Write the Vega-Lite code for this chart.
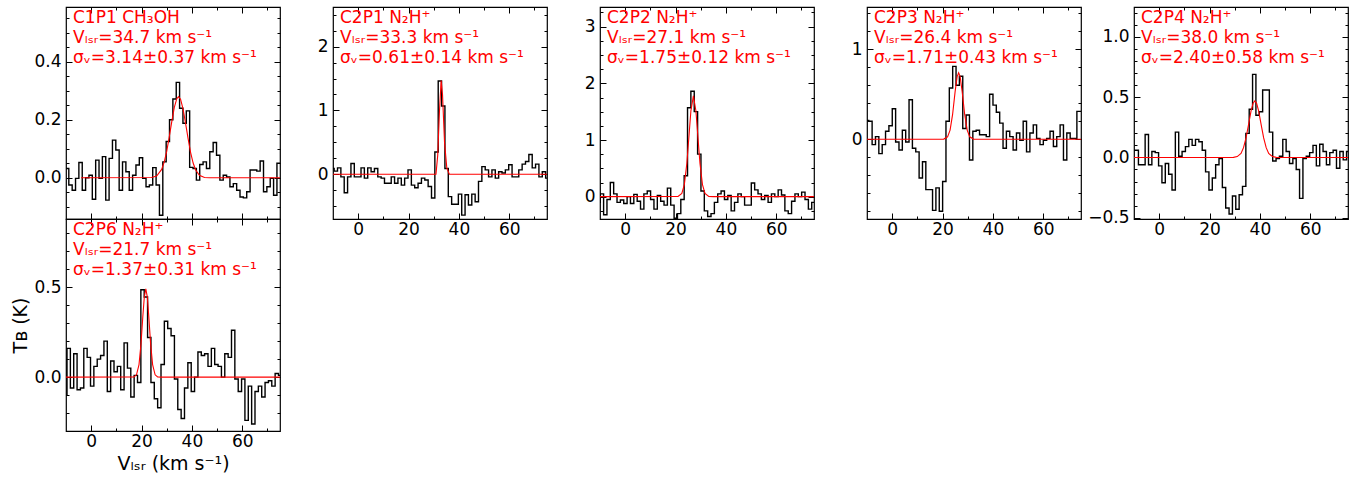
{
"$schema": "https://vega.github.io/schema/vega-lite/v6.json",
"background": "white",
"padding": {"left": 11, "top": 2, "right": 5, "bottom": 5},
"datasets": {
"s1": [{"v":-10.88,"t":0.03},{"v":-9.55,"t":0.032},{"v":-8.22,"t":-0.025},{"v":-6.88,"t":-0.043},{"v":-5.55,"t":-0.002},{"v":-4.22,"t":0.053},{"v":-2.88,"t":-0.043},{"v":-1.55,"t":0.0},{"v":-0.22,"t":0.009},{"v":1.12,"t":-0.074},{"v":2.45,"t":0.061},{"v":3.78,"t":-0.002},{"v":5.12,"t":0.073},{"v":6.45,"t":-0.077},{"v":7.78,"t":0.067},{"v":9.12,"t":0.13},{"v":10.45,"t":0.096},{"v":11.78,"t":-0.043},{"v":13.12,"t":0.055},{"v":14.45,"t":0.021},{"v":15.78,"t":-0.043},{"v":17.12,"t":0.009},{"v":18.45,"t":0.044},{"v":19.78,"t":0.069},{"v":21.12,"t":-0.002},{"v":22.45,"t":-0.031},{"v":23.78,"t":-0.025},{"v":25.12,"t":0.035},{"v":26.45,"t":-0.025},{"v":27.78,"t":-0.129},{"v":29.12,"t":0.055},{"v":30.45,"t":0.125},{"v":31.78,"t":0.2},{"v":33.12,"t":0.272},{"v":34.45,"t":0.329},{"v":35.78,"t":0.24},{"v":37.12,"t":0.188},{"v":38.45,"t":0.231},{"v":39.78,"t":0.036},{"v":41.12,"t":0.032},{"v":42.45,"t":-0.008},{"v":43.78,"t":0.046},{"v":45.12,"t":0.055},{"v":46.45,"t":0.032},{"v":47.78,"t":0.09},{"v":49.12,"t":0.122},{"v":50.45,"t":0.078},{"v":51.78,"t":-0.008},{"v":53.12,"t":0.009},{"v":54.45,"t":0.003},{"v":55.78,"t":-0.031},{"v":57.12,"t":-0.02},{"v":58.45,"t":-0.043},{"v":59.78,"t":-0.066},{"v":61.12,"t":-0.069},{"v":62.45,"t":-0.048},{"v":63.78,"t":0.027},{"v":65.12,"t":0.027},{"v":66.45,"t":0.023},{"v":67.78,"t":0.058},{"v":69.12,"t":-0.048},{"v":70.45,"t":-0.031},{"v":71.78,"t":-0.002},{"v":73.12,"t":-0.06},{"v":74.45,"t":0.05},{"v":75.78,"t":0.05}],
"s2": [{"v":-10.21,"t":0.09},{"v":-8.88,"t":0.05},{"v":-7.54,"t":0.1},{"v":-6.21,"t":-0.04},{"v":-4.88,"t":-0.29},{"v":-3.54,"t":-0.04},{"v":-2.21,"t":0.17},{"v":-0.88,"t":-0.04},{"v":0.46,"t":-0.04},{"v":1.79,"t":0.1},{"v":3.12,"t":-0.06},{"v":4.46,"t":0.1},{"v":5.79,"t":0.04},{"v":7.12,"t":0.09},{"v":8.46,"t":-0.04},{"v":9.79,"t":-0.06},{"v":11.12,"t":-0.14},{"v":12.46,"t":-0.14},{"v":13.79,"t":-0.04},{"v":15.12,"t":-0.14},{"v":16.46,"t":-0.06},{"v":17.79,"t":-0.17},{"v":19.12,"t":-0.06},{"v":20.46,"t":0.07},{"v":21.79,"t":-0.17},{"v":23.12,"t":-0.21},{"v":24.46,"t":-0.14},{"v":25.79,"t":-0.06},{"v":27.12,"t":-0.09},{"v":28.46,"t":-0.19},{"v":29.79,"t":-0.37},{"v":31.12,"t":0.35},{"v":32.46,"t":1.46},{"v":33.79,"t":1.07},{"v":35.12,"t":0.09},{"v":36.46,"t":-0.35},{"v":37.79,"t":-0.47},{"v":39.12,"t":-0.47},{"v":40.46,"t":-0.31},{"v":41.79,"t":-0.64},{"v":43.12,"t":-0.32},{"v":44.46,"t":-0.48},{"v":45.79,"t":-0.31},{"v":47.12,"t":-0.43},{"v":48.46,"t":-0.11},{"v":49.79,"t":0.12},{"v":51.12,"t":0.07},{"v":52.46,"t":-0.04},{"v":53.79,"t":0.07},{"v":55.12,"t":-0.06},{"v":56.46,"t":0.04},{"v":57.79,"t":0.02},{"v":59.12,"t":0.07},{"v":60.46,"t":0.15},{"v":61.79,"t":-0.04},{"v":63.12,"t":-0.04},{"v":64.46,"t":0.07},{"v":65.79,"t":0.16},{"v":67.12,"t":0.2},{"v":68.46,"t":0.31},{"v":69.79,"t":0.1},{"v":71.12,"t":0.16},{"v":72.46,"t":-0.04},{"v":73.79,"t":0.04},{"v":75.12,"t":-0.06}],
"s3": [{"v":-10.57,"t":-0.1},{"v":-9.24,"t":0.05},{"v":-7.9,"t":-0.32},{"v":-6.57,"t":-0.05},{"v":-5.24,"t":0.25},{"v":-3.9,"t":0.05},{"v":-2.57,"t":-0.1},{"v":-1.24,"t":-0.06},{"v":0.1,"t":-0.12},{"v":1.43,"t":0.0},{"v":2.76,"t":-0.12},{"v":4.1,"t":0.04},{"v":5.43,"t":-0.08},{"v":6.76,"t":-0.22},{"v":8.1,"t":0.05},{"v":9.43,"t":0.1},{"v":10.76,"t":-0.05},{"v":12.1,"t":-0.22},{"v":13.43,"t":0.02},{"v":14.76,"t":-0.08},{"v":16.1,"t":-0.15},{"v":17.43,"t":0.15},{"v":18.76,"t":-0.15},{"v":20.1,"t":-0.38},{"v":21.43,"t":-0.3},{"v":22.76,"t":-0.05},{"v":24.1,"t":0.37},{"v":25.43,"t":1.57},{"v":26.76,"t":1.86},{"v":28.1,"t":1.5},{"v":29.43,"t":0.75},{"v":30.76,"t":0.1},{"v":32.1,"t":-0.25},{"v":33.43,"t":-0.35},{"v":34.76,"t":-0.3},{"v":36.1,"t":-0.1},{"v":37.43,"t":0.05},{"v":38.76,"t":0.1},{"v":40.1,"t":-0.05},{"v":41.43,"t":0.02},{"v":42.76,"t":-0.25},{"v":44.1,"t":-0.1},{"v":45.43,"t":0.05},{"v":46.76,"t":0.0},{"v":48.1,"t":-0.15},{"v":49.43,"t":-0.15},{"v":50.76,"t":0.24},{"v":52.1,"t":0.12},{"v":53.43,"t":0.05},{"v":54.76,"t":-0.05},{"v":56.1,"t":0.02},{"v":57.43,"t":-0.1},{"v":58.76,"t":0.05},{"v":60.1,"t":0.0},{"v":61.43,"t":0.12},{"v":62.76,"t":0.03},{"v":64.1,"t":-0.25},{"v":65.43,"t":-0.3},{"v":66.76,"t":-0.08},{"v":68.1,"t":0.05},{"v":69.43,"t":0.0},{"v":70.76,"t":0.08},{"v":72.1,"t":-0.05},{"v":73.43,"t":-0.22},{"v":74.76,"t":-0.1},{"v":76.1,"t":-0.1}],
"s4": [{"v":-11.3,"t":0.21},{"v":-9.97,"t":0.21},{"v":-8.63,"t":0.2},{"v":-7.3,"t":-0.06},{"v":-5.97,"t":0.03},{"v":-4.63,"t":-0.16},{"v":-3.3,"t":-0.06},{"v":-1.97,"t":0.09},{"v":-0.63,"t":0.15},{"v":0.7,"t":0.34},{"v":2.03,"t":-0.03},{"v":3.37,"t":-0.12},{"v":4.7,"t":0.1},{"v":6.03,"t":-0.03},{"v":7.37,"t":0.44},{"v":8.7,"t":-0.1},{"v":10.03,"t":-0.14},{"v":11.37,"t":-0.43},{"v":12.7,"t":-0.25},{"v":14.03,"t":-0.56},{"v":15.37,"t":-0.56},{"v":16.7,"t":-0.79},{"v":18.03,"t":-0.54},{"v":19.37,"t":-0.8},{"v":20.7,"t":-0.47},{"v":22.03,"t":0.2},{"v":23.37,"t":0.57},{"v":24.7,"t":0.81},{"v":26.03,"t":0.6},{"v":27.37,"t":0.7},{"v":28.7,"t":0.12},{"v":30.03,"t":0.27},{"v":31.37,"t":-0.23},{"v":32.7,"t":0.09},{"v":34.03,"t":0.1},{"v":35.37,"t":0.05},{"v":36.7,"t":0.05},{"v":38.03,"t":0.03},{"v":39.37,"t":0.5},{"v":40.7,"t":0.38},{"v":42.03,"t":0.3},{"v":43.37,"t":0.18},{"v":44.7,"t":-0.1},{"v":46.03,"t":0.09},{"v":47.37,"t":0.03},{"v":48.7,"t":-0.12},{"v":50.03,"t":0.07},{"v":51.37,"t":-0.01},{"v":52.7,"t":0.2},{"v":54.03,"t":-0.14},{"v":55.37,"t":0.07},{"v":56.7,"t":0.16},{"v":58.03,"t":0.01},{"v":59.37,"t":-0.06},{"v":60.7,"t":-0.01},{"v":62.03,"t":0.01},{"v":63.37,"t":0.09},{"v":64.7,"t":-0.08},{"v":66.03,"t":0.03},{"v":67.37,"t":0.16},{"v":68.7,"t":-0.23},{"v":70.03,"t":0.07},{"v":71.37,"t":0.01},{"v":72.7,"t":0.01},{"v":74.03,"t":0.31},{"v":75.37,"t":0.31}],
"s5": [{"v":-10.24,"t":0.06},{"v":-8.91,"t":0.06},{"v":-7.57,"t":-0.06},{"v":-6.24,"t":-0.06},{"v":-4.91,"t":0.19},{"v":-3.57,"t":-0.06},{"v":-2.24,"t":0.05},{"v":-0.91,"t":0.04},{"v":0.43,"t":-0.07},{"v":1.76,"t":-0.21},{"v":3.09,"t":-0.05},{"v":4.43,"t":-0.14},{"v":5.76,"t":-0.27},{"v":7.09,"t":0.21},{"v":8.43,"t":0.01},{"v":9.76,"t":0.05},{"v":11.09,"t":0.09},{"v":12.43,"t":0.15},{"v":13.76,"t":0.1},{"v":15.09,"t":0.15},{"v":16.43,"t":0.13},{"v":17.76,"t":0.06},{"v":19.09,"t":-0.12},{"v":20.43,"t":-0.27},{"v":21.76,"t":-0.17},{"v":23.09,"t":-0.06},{"v":24.43,"t":-0.01},{"v":25.76,"t":-0.25},{"v":27.09,"t":-0.42},{"v":28.43,"t":-0.47},{"v":29.76,"t":-0.32},{"v":31.09,"t":-0.43},{"v":32.43,"t":-0.31},{"v":33.76,"t":-0.24},{"v":35.09,"t":0.2},{"v":36.43,"t":0.4},{"v":37.76,"t":0.69},{"v":39.09,"t":0.35},{"v":40.43,"t":0.38},{"v":41.76,"t":0.56},{"v":43.09,"t":0.56},{"v":44.43,"t":0.21},{"v":45.76,"t":-0.03},{"v":47.09,"t":-0.01},{"v":48.43,"t":0.01},{"v":49.76,"t":0.15},{"v":51.09,"t":0.05},{"v":52.43,"t":-0.05},{"v":53.76,"t":-0.01},{"v":55.09,"t":-0.1},{"v":56.43,"t":-0.34},{"v":57.76,"t":-0.01},{"v":59.09,"t":0.01},{"v":60.43,"t":0.04},{"v":61.76,"t":0.1},{"v":63.09,"t":-0.07},{"v":64.43,"t":0.11},{"v":65.76,"t":0.05},{"v":67.09,"t":-0.06},{"v":68.43,"t":0.04},{"v":69.76,"t":0.06},{"v":71.09,"t":-0.09},{"v":72.43,"t":0.05},{"v":73.76,"t":-0.02},{"v":75.09,"t":0.05}],
"s6": [{"v":-10.27,"t":-0.1},{"v":-8.93,"t":0.16},{"v":-7.6,"t":-0.06},{"v":-6.27,"t":0.13},{"v":-4.93,"t":-0.07},{"v":-3.6,"t":-0.06},{"v":-2.27,"t":0.16},{"v":-0.93,"t":0.11},{"v":0.4,"t":-0.05},{"v":1.73,"t":0.06},{"v":3.07,"t":0.1},{"v":4.4,"t":0.12},{"v":5.73,"t":0.2},{"v":7.07,"t":-0.08},{"v":8.4,"t":0.09},{"v":9.73,"t":0.03},{"v":11.07,"t":0.06},{"v":12.4,"t":-0.07},{"v":13.73,"t":0.19},{"v":15.07,"t":0.05},{"v":16.4,"t":-0.11},{"v":17.73,"t":0.01},{"v":19.07,"t":-0.03},{"v":20.4,"t":0.485},{"v":21.73,"t":0.445},{"v":23.07,"t":0.22},{"v":24.4,"t":-0.03},{"v":25.73,"t":-0.12},{"v":27.07,"t":-0.17},{"v":28.4,"t":0.07},{"v":29.73,"t":0.31},{"v":31.07,"t":0.27},{"v":32.4,"t":0.23},{"v":33.73,"t":-0.01},{"v":35.07,"t":-0.18},{"v":36.4,"t":-0.23},{"v":37.73,"t":-0.06},{"v":39.07,"t":0.08},{"v":40.4,"t":-0.08},{"v":41.73,"t":0.0},{"v":43.07,"t":0.14},{"v":44.4,"t":0.12},{"v":45.73,"t":0.13},{"v":47.07,"t":0.06},{"v":48.4,"t":0.16},{"v":49.73,"t":0.07},{"v":51.07,"t":0.06},{"v":52.4,"t":0.0},{"v":53.73,"t":0.13},{"v":55.07,"t":0.11},{"v":56.4,"t":0.26},{"v":57.73,"t":-0.01},{"v":59.07,"t":-0.08},{"v":60.4,"t":-0.01},{"v":61.73,"t":-0.24},{"v":63.07,"t":-0.05},{"v":64.4,"t":-0.26},{"v":65.73,"t":-0.08},{"v":67.07,"t":-0.05},{"v":68.4,"t":-0.11},{"v":69.73,"t":-0.03},{"v":71.07,"t":-0.02},{"v":72.4,"t":-0.05},{"v":73.73,"t":0.02},{"v":75.07,"t":0.01}],
"f1": [{"v":-4,"t":0},{"v":24,"t":0.001},{"v":26,"t":0.006},{"v":28,"t":0.029},{"v":29,"t":0.054},{"v":30,"t":0.091},{"v":31,"t":0.14},{"v":32,"t":0.193},{"v":33,"t":0.242},{"v":34,"t":0.273},{"v":34.7,"t":0.28},{"v":35.5,"t":0.271},{"v":36.5,"t":0.237},{"v":37.5,"t":0.188},{"v":38.5,"t":0.135},{"v":39.5,"t":0.087},{"v":40.5,"t":0.051},{"v":41.5,"t":0.027},{"v":43,"t":0.0085},{"v":45,"t":0.0013},{"v":47,"t":0},{"v":75,"t":0}],
"f2": [{"v":-10,"t":0},{"v":30.9,"t":0},{"v":31.6,"t":0.3},{"v":32.3,"t":1.0},{"v":32.95,"t":1.47},{"v":33.5,"t":1.25},{"v":34.3,"t":0.5},{"v":35.2,"t":0.1},{"v":36.2,"t":0},{"v":75,"t":0}],
"f3": [{"v":-10,"t":0},{"v":21,"t":0.004},{"v":22.5,"t":0.056},{"v":23.5,"t":0.214},{"v":24.5,"t":0.59},{"v":25.3,"t":1.049},{"v":26.1,"t":1.512},{"v":27.1,"t":1.78},{"v":28.1,"t":1.512},{"v":28.9,"t":1.049},{"v":29.7,"t":0.59},{"v":30.7,"t":0.214},{"v":31.7,"t":0.056},{"v":33.2,"t":0.004},{"v":35,"t":0},{"v":75,"t":0}],
"f4": [{"v":-10,"t":0},{"v":20.5,"t":0.002},{"v":22,"t":0.027},{"v":23,"t":0.102},{"v":24,"t":0.276},{"v":25,"t":0.529},{"v":25.8,"t":0.696},{"v":26.4,"t":0.74},{"v":27,"t":0.696},{"v":27.8,"t":0.529},{"v":28.8,"t":0.276},{"v":29.8,"t":0.102},{"v":30.8,"t":0.027},{"v":32.3,"t":0.002},{"v":34,"t":0},{"v":75,"t":0}],
"f5": [{"v":-10,"t":0},{"v":29.5,"t":0.001},{"v":31,"t":0.007},{"v":32.5,"t":0.034},{"v":33.5,"t":0.081},{"v":34.5,"t":0.162},{"v":35.5,"t":0.273},{"v":36.5,"t":0.387},{"v":37.3,"t":0.45},{"v":38,"t":0.47},{"v":38.7,"t":0.45},{"v":39.5,"t":0.387},{"v":40.5,"t":0.273},{"v":41.5,"t":0.162},{"v":42.5,"t":0.081},{"v":43.5,"t":0.034},{"v":45,"t":0.007},{"v":46.5,"t":0.001},{"v":48,"t":0},{"v":75,"t":0}],
"f6": [{"v":-10,"t":0},{"v":17,"t":0.001},{"v":18,"t":0.013},{"v":19,"t":0.07},{"v":19.8,"t":0.187},{"v":20.5,"t":0.334},{"v":21.1,"t":0.445},{"v":21.7,"t":0.49},{"v":22.3,"t":0.445},{"v":22.9,"t":0.334},{"v":23.6,"t":0.187},{"v":24.4,"t":0.07},{"v":25.4,"t":0.013},{"v":26.4,"t":0.001},{"v":28,"t":0},{"v":75,"t":0}],
"lab": [{"p":"1","txt":["C1P1 CH₃OH","Vₗₛᵣ=34.7 km s⁻¹","σᵥ=3.14±0.37 km s⁻¹"]},{"p":"2","txt":["C2P1 N₂H⁺","Vₗₛᵣ=33.3 km s⁻¹","σᵥ=0.61±0.14 km s⁻¹"]},{"p":"3","txt":["C2P2 N₂H⁺","Vₗₛᵣ=27.1 km s⁻¹","σᵥ=1.75±0.12 km s⁻¹"]},{"p":"4","txt":["C2P3 N₂H⁺","Vₗₛᵣ=26.4 km s⁻¹","σᵥ=1.71±0.43 km s⁻¹"]},{"p":"5","txt":["C2P4 N₂H⁺","Vₗₛᵣ=38.0 km s⁻¹","σᵥ=2.40±0.58 km s⁻¹"]},{"p":"6","txt":["C2P6 N₂H⁺","Vₗₛᵣ=21.7 km s⁻¹","σᵥ=1.37±0.31 km s⁻¹"]}]
},
"columns": 5,
"spacing": {"row": 0, "column": 53},
"bounds": "flush",
"concat": [
{
"width": 214, "height": 212,
"layer": [
{"data": {"name": "s1"}, "mark": {"type": "line", "interpolate": "step", "color": "black", "strokeWidth": 1.4, "clip": true},
 "encoding": {
  "x": {"field": "v", "type": "quantitative", "scale": {"domain": [-10, 75], "nice": false, "zero": false},
        "axis": {"orient": "bottom", "values": [0,10,20,30,40,50,60,70], "labels": false, "title": null, "tickSize": {"condition": {"test": "datum.value % 20 == 0", "value": -6}, "value": -3}}},
  "y": {"field": "t", "type": "quantitative", "scale": {"domain": [-0.142, 0.589], "nice": false, "zero": false},
        "axis": {"orient": "left", "values": [-0.1,-0.05,0,0.05,0.1,0.15,0.2,0.25,0.3,0.35,0.4,0.45,0.5,0.55], "format": ".1f", "labelExpr": "abs(datum.value*5-round(datum.value*5))<0.001 ? datum.label : ''", "title": null, "tickSize": {"condition": {"test": "abs(datum.value*5-round(datum.value*5))<0.001", "value": -6}, "value": -3}}}
 }},
{"data": {"name": "f1"}, "mark": {"type": "line", "color": "#ff0000", "strokeWidth": 1.1, "clip": true},
 "encoding": {
  "x": {"field": "v", "type": "quantitative", "axis": {"orient": "top", "values": [0,10,20,30,40,50,60,70], "labels": false, "title": null, "tickSize": {"condition": {"test": "datum.value % 20 == 0", "value": -6}, "value": -3}}},
  "y": {"field": "t", "type": "quantitative", "axis": {"orient": "right", "values": [-0.1,-0.05,0,0.05,0.1,0.15,0.2,0.25,0.3,0.35,0.4,0.45,0.5,0.55], "labels": false, "title": null, "tickSize": {"condition": {"test": "abs(datum.value*5-round(datum.value*5))<0.001", "value": -6}, "value": -3}}}
 }},
{"data": {"name": "lab"}, "transform": [{"filter": "datum.p == '1'"}], "mark": {"type": "text", "align": "left", "baseline": "top", "dx": 7, "dy": 3, "color": "#ff0000", "font": "DejaVu Sans", "fontSize": 17, "lineHeight": 20},
 "encoding": {"x": {"datum": -10, "type": "quantitative", "axis": null}, "y": {"datum": 0.589, "type": "quantitative", "axis": null}, "text": {"field": "txt"}}}
],
"resolve": {"axis": {"x": "independent", "y": "independent"}}
},
{
"width": 214, "height": 212,
"layer": [
{"data": {"name": "s2"}, "mark": {"type": "line", "interpolate": "step", "color": "black", "strokeWidth": 1.4, "clip": true},
 "encoding": {
  "x": {"field": "v", "type": "quantitative", "scale": {"domain": [-10, 75], "nice": false, "zero": false},
        "axis": {"orient": "bottom", "values": [0,10,20,30,40,50,60,70], "labelExpr": "datum.value % 20 == 0 ? datum.label : ''", "title": null, "tickSize": {"condition": {"test": "datum.value % 20 == 0", "value": -6}, "value": -3}}},
  "y": {"field": "t", "type": "quantitative", "scale": {"domain": [-0.7, 2.62], "nice": false, "zero": false},
        "axis": {"orient": "left", "values": [-0.5,-0.25,0,0.25,0.5,0.75,1,1.25,1.5,1.75,2,2.25,2.5], "format": ".0f", "labelExpr": "abs(datum.value-round(datum.value))<0.001 ? datum.label : ''", "title": null, "tickSize": {"condition": {"test": "abs(datum.value-round(datum.value))<0.001", "value": -6}, "value": -3}}}
 }},
{"data": {"name": "f2"}, "mark": {"type": "line", "color": "#ff0000", "strokeWidth": 1.1, "clip": true},
 "encoding": {
  "x": {"field": "v", "type": "quantitative", "axis": {"orient": "top", "values": [0,10,20,30,40,50,60,70], "labels": false, "title": null, "tickSize": {"condition": {"test": "datum.value % 20 == 0", "value": -6}, "value": -3}}},
  "y": {"field": "t", "type": "quantitative", "axis": {"orient": "right", "values": [-0.5,-0.25,0,0.25,0.5,0.75,1,1.25,1.5,1.75,2,2.25,2.5], "labels": false, "title": null, "tickSize": {"condition": {"test": "abs(datum.value-round(datum.value))<0.001", "value": -6}, "value": -3}}}
 }},
{"data": {"name": "lab"}, "transform": [{"filter": "datum.p == '2'"}], "mark": {"type": "text", "align": "left", "baseline": "top", "dx": 7, "dy": 3, "color": "#ff0000", "font": "DejaVu Sans", "fontSize": 17, "lineHeight": 20},
 "encoding": {"x": {"datum": -10, "type": "quantitative", "axis": null}, "y": {"datum": 2.62, "type": "quantitative", "axis": null}, "text": {"field": "txt"}}}
],
"resolve": {"axis": {"x": "independent", "y": "independent"}}
},
{
"width": 214, "height": 212,
"layer": [
{"data": {"name": "s3"}, "mark": {"type": "line", "interpolate": "step", "color": "black", "strokeWidth": 1.4, "clip": true},
 "encoding": {
  "x": {"field": "v", "type": "quantitative", "scale": {"domain": [-10, 75], "nice": false, "zero": false},
        "axis": {"orient": "bottom", "values": [0,10,20,30,40,50,60,70], "labelExpr": "datum.value % 20 == 0 ? datum.label : ''", "title": null, "tickSize": {"condition": {"test": "datum.value % 20 == 0", "value": -6}, "value": -3}}},
  "y": {"field": "t", "type": "quantitative", "scale": {"domain": [-0.394, 3.347], "nice": false, "zero": false},
        "axis": {"orient": "left", "values": [-0.25,0,0.25,0.5,0.75,1,1.25,1.5,1.75,2,2.25,2.5,2.75,3,3.25], "format": ".0f", "labelExpr": "abs(datum.value-round(datum.value))<0.001 ? datum.label : ''", "title": null, "tickSize": {"condition": {"test": "abs(datum.value-round(datum.value))<0.001", "value": -6}, "value": -3}}}
 }},
{"data": {"name": "f3"}, "mark": {"type": "line", "color": "#ff0000", "strokeWidth": 1.1, "clip": true},
 "encoding": {
  "x": {"field": "v", "type": "quantitative", "axis": {"orient": "top", "values": [0,10,20,30,40,50,60,70], "labels": false, "title": null, "tickSize": {"condition": {"test": "datum.value % 20 == 0", "value": -6}, "value": -3}}},
  "y": {"field": "t", "type": "quantitative", "axis": {"orient": "right", "values": [-0.25,0,0.25,0.5,0.75,1,1.25,1.5,1.75,2,2.25,2.5,2.75,3,3.25], "labels": false, "title": null, "tickSize": {"condition": {"test": "abs(datum.value-round(datum.value))<0.001", "value": -6}, "value": -3}}}
 }},
{"data": {"name": "lab"}, "transform": [{"filter": "datum.p == '3'"}], "mark": {"type": "text", "align": "left", "baseline": "top", "dx": 7, "dy": 3, "color": "#ff0000", "font": "DejaVu Sans", "fontSize": 17, "lineHeight": 20},
 "encoding": {"x": {"datum": -10, "type": "quantitative", "axis": null}, "y": {"datum": 3.347, "type": "quantitative", "axis": null}, "text": {"field": "txt"}}}
],
"resolve": {"axis": {"x": "independent", "y": "independent"}}
},
{
"width": 214, "height": 212,
"layer": [
{"data": {"name": "s4"}, "mark": {"type": "line", "interpolate": "step", "color": "black", "strokeWidth": 1.4, "clip": true},
 "encoding": {
  "x": {"field": "v", "type": "quantitative", "scale": {"domain": [-10, 75], "nice": false, "zero": false},
        "axis": {"orient": "bottom", "values": [0,10,20,30,40,50,60,70], "labelExpr": "datum.value % 20 == 0 ? datum.label : ''", "title": null, "tickSize": {"condition": {"test": "datum.value % 20 == 0", "value": -6}, "value": -3}}},
  "y": {"field": "t", "type": "quantitative", "scale": {"domain": [-0.886, 1.47], "nice": false, "zero": false},
        "axis": {"orient": "left", "values": [-0.8,-0.6,-0.4,-0.2,0,0.2,0.4,0.6,0.8,1,1.2,1.4], "format": ".0f", "labelExpr": "abs(datum.value-round(datum.value))<0.001 ? datum.label : ''", "title": null, "tickSize": {"condition": {"test": "abs(datum.value-round(datum.value))<0.001", "value": -6}, "value": -3}}}
 }},
{"data": {"name": "f4"}, "mark": {"type": "line", "color": "#ff0000", "strokeWidth": 1.1, "clip": true},
 "encoding": {
  "x": {"field": "v", "type": "quantitative", "axis": {"orient": "top", "values": [0,10,20,30,40,50,60,70], "labels": false, "title": null, "tickSize": {"condition": {"test": "datum.value % 20 == 0", "value": -6}, "value": -3}}},
  "y": {"field": "t", "type": "quantitative", "axis": {"orient": "right", "values": [-0.8,-0.6,-0.4,-0.2,0,0.2,0.4,0.6,0.8,1,1.2,1.4], "labels": false, "title": null, "tickSize": {"condition": {"test": "abs(datum.value-round(datum.value))<0.001", "value": -6}, "value": -3}}}
 }},
{"data": {"name": "lab"}, "transform": [{"filter": "datum.p == '4'"}], "mark": {"type": "text", "align": "left", "baseline": "top", "dx": 7, "dy": 3, "color": "#ff0000", "font": "DejaVu Sans", "fontSize": 17, "lineHeight": 20},
 "encoding": {"x": {"datum": -10, "type": "quantitative", "axis": null}, "y": {"datum": 1.47, "type": "quantitative", "axis": null}, "text": {"field": "txt"}}}
],
"resolve": {"axis": {"x": "independent", "y": "independent"}}
},
{
"width": 214, "height": 212,
"layer": [
{"data": {"name": "s5"}, "mark": {"type": "line", "interpolate": "step", "color": "black", "strokeWidth": 1.4, "clip": true},
 "encoding": {
  "x": {"field": "v", "type": "quantitative", "scale": {"domain": [-10, 75], "nice": false, "zero": false},
        "axis": {"orient": "bottom", "values": [0,10,20,30,40,50,60,70], "labelExpr": "datum.value % 20 == 0 ? datum.label : ''", "title": null, "tickSize": {"condition": {"test": "datum.value % 20 == 0", "value": -6}, "value": -3}}},
  "y": {"field": "t", "type": "quantitative", "scale": {"domain": [-0.511, 1.249], "nice": false, "zero": false},
        "axis": {"orient": "left", "values": [-0.5,-0.4,-0.3,-0.2,-0.1,0,0.1,0.2,0.3,0.4,0.5,0.6,0.7,0.8,0.9,1,1.1,1.2], "format": ".1f", "labelExpr": "abs(datum.value*2-round(datum.value*2))<0.001 ? datum.label : ''", "title": null, "tickSize": {"condition": {"test": "abs(datum.value*2-round(datum.value*2))<0.001", "value": -6}, "value": -3}}}
 }},
{"data": {"name": "f5"}, "mark": {"type": "line", "color": "#ff0000", "strokeWidth": 1.1, "clip": true},
 "encoding": {
  "x": {"field": "v", "type": "quantitative", "axis": {"orient": "top", "values": [0,10,20,30,40,50,60,70], "labels": false, "title": null, "tickSize": {"condition": {"test": "datum.value % 20 == 0", "value": -6}, "value": -3}}},
  "y": {"field": "t", "type": "quantitative", "axis": {"orient": "right", "values": [-0.5,-0.4,-0.3,-0.2,-0.1,0,0.1,0.2,0.3,0.4,0.5,0.6,0.7,0.8,0.9,1,1.1,1.2], "labels": false, "title": null, "tickSize": {"condition": {"test": "abs(datum.value*2-round(datum.value*2))<0.001", "value": -6}, "value": -3}}}
 }},
{"data": {"name": "lab"}, "transform": [{"filter": "datum.p == '5'"}], "mark": {"type": "text", "align": "left", "baseline": "top", "dx": 7, "dy": 3, "color": "#ff0000", "font": "DejaVu Sans", "fontSize": 17, "lineHeight": 20},
 "encoding": {"x": {"datum": -10, "type": "quantitative", "axis": null}, "y": {"datum": 1.249, "type": "quantitative", "axis": null}, "text": {"field": "txt"}}}
],
"resolve": {"axis": {"x": "independent", "y": "independent"}}
},
{
"width": 214, "height": 212,
"layer": [
{"data": {"name": "s6"}, "mark": {"type": "line", "interpolate": "step", "color": "black", "strokeWidth": 1.4, "clip": true},
 "encoding": {
  "x": {"field": "v", "type": "quantitative", "scale": {"domain": [-10, 75], "nice": false, "zero": false},
        "axis": {"orient": "bottom", "values": [0,10,20,30,40,50,60,70], "labelExpr": "datum.value % 20 == 0 ? datum.label : ''", "title": "Vₗₛᵣ (km s⁻¹)", "tickSize": {"condition": {"test": "datum.value % 20 == 0", "value": -6}, "value": -3}}},
  "y": {"field": "t", "type": "quantitative", "scale": {"domain": [-0.299, 0.878], "nice": false, "zero": false},
        "axis": {"orient": "left", "values": [-0.2,-0.1,0,0.1,0.2,0.3,0.4,0.5,0.6,0.7,0.8], "format": ".1f", "labelExpr": "abs(datum.value*2-round(datum.value*2))<0.001 ? datum.label : ''", "title": "Tʙ (K)", "tickSize": {"condition": {"test": "abs(datum.value*2-round(datum.value*2))<0.001", "value": -6}, "value": -3}}}
 }},
{"data": {"name": "f6"}, "mark": {"type": "line", "color": "#ff0000", "strokeWidth": 1.1, "clip": true},
 "encoding": {
  "x": {"field": "v", "type": "quantitative", "axis": {"orient": "top", "values": [0,10,20,30,40,50,60,70], "labels": false, "title": null, "tickSize": {"condition": {"test": "datum.value % 20 == 0", "value": -6}, "value": -3}}},
  "y": {"field": "t", "type": "quantitative", "axis": {"orient": "right", "values": [-0.2,-0.1,0,0.1,0.2,0.3,0.4,0.5,0.6,0.7,0.8], "labels": false, "title": null, "tickSize": {"condition": {"test": "abs(datum.value*2-round(datum.value*2))<0.001", "value": -6}, "value": -3}}}
 }},
{"data": {"name": "lab"}, "transform": [{"filter": "datum.p == '6'"}], "mark": {"type": "text", "align": "left", "baseline": "top", "dx": 7, "dy": 3, "color": "#ff0000", "font": "DejaVu Sans", "fontSize": 17, "lineHeight": 20},
 "encoding": {"x": {"datum": -10, "type": "quantitative", "axis": null}, "y": {"datum": 0.878, "type": "quantitative", "axis": null}, "text": {"field": "txt"}}}
],
"resolve": {"axis": {"x": "independent", "y": "independent"}}
}
],
"config": {
 "font": "DejaVu Sans",
 "view": {"stroke": "black", "strokeWidth": 1.2},
 "axis": {"grid": false, "domain": false, "tickColor": "black", "tickWidth": 1, "labelFont": "DejaVu Sans", "labelFontSize": 17, "labelColor": "black", "labelPadding": 11, "labelOverlap": false, "labelFlush": false, "labelBound": false, "titleFont": "DejaVu Sans", "titleFontSize": 19, "titleFontWeight": "normal", "titleColor": "black"},
 "axisY": {"titlePadding": 3},
 "axisX": {"titlePadding": 2, "labelPadding": 8}
}
}
